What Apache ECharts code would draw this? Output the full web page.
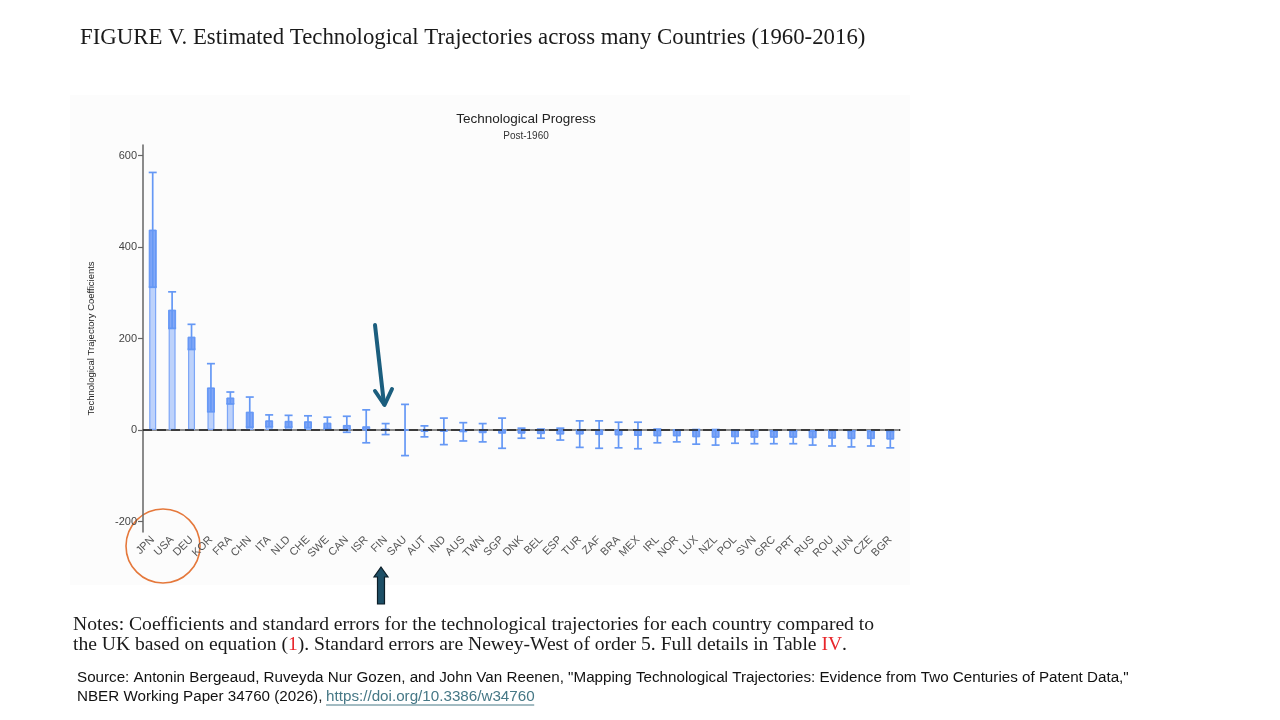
<!DOCTYPE html>
<html>
<head>
<meta charset="utf-8">
<script src="https://cdn.jsdelivr.net/npm/echarts@6/dist/echarts.min.js"></script>
<style>
  html, body { margin: 0; padding: 0; background: #fff; }
  #chart { width: 1280px; height: 720px; }
</style>
</head>
<body>
<div id="chart"></div>
<script>
// countries, in the order of the figure
var countries = ['JPN','USA','DEU','KOR','FRA','CHN','ITA','NLD','CHE','SWE','CAN','ISR','FIN','SAU','AUT','IND','AUS','TWN','SGP','DNK','BEL','ESP','TUR','ZAF','BRA','MEX','IRL','NOR','LUX','NZL','POL','SVN','GRC','PRT','RUS','ROU','HUN','CZE','BGR'];
// estimated coefficients
var coef = [437,262,203,92,70,39,20,19,18,15,10,7,2,0,-3,-3,-4,-6,-7,-7,-8,-9,-9,-10,-11,-12,-13,-13,-15,-16,-15,-16,-16,-16,-17,-18,-19,-19,-20];
// confidence interval, lower and upper ends
var ciLow = [312,222,176,40,57,6,7,6,5,3,-5,-28,-10,-56,-15,-32,-24,-26,-40,-18,-18,-22,-38,-40,-39,-41,-28,-26,-31,-33,-29,-30,-30,-30,-33,-35,-37,-35,-39];
var ciHigh = [563,302,231,145,83,72,33,32,31,28,30,44,14,56,9,26,16,14,26,4,2,4,20,20,17,17,2,0,1,1,-1,-2,-2,-2,-2,-2,-2,-3,-3];
var yTicks = [-200,0,200,400,600];

var figTitle = 'FIGURE V. Estimated Technological Trajectories across many Countries (1960-2016)';
var notes1 = 'Notes: Coefficients and standard errors for the technological trajectories for each country compared to';
var src1 = 'Source: Antonin Bergeaud, Ruveyda Nur Gozen, and John Van Reenen, "Mapping Technological Trajectories: Evidence from Two Centuries of Patent Data,"';
var src2a = 'NBER Working Paper 34760 (2026), ';
var src2b = 'https://doi.org/10.3386/w34760';

// helper to size text so it spans the same width as in the figure
var ctx = document.createElement('canvas').getContext('2d');
function textW(txt, size, fam) {
    ctx.font = size + 'px ' + fam;
    return ctx.measureText(txt).width;
}
function fitSize(txt, fam, target) {
    return 20 * target / textW(txt, 20, fam);
}
var serif = '"Liberation Serif"';
var sans = '"Liberation Sans"';
var titleSize = fitSize(figTitle, serif, 785);
var notesSize = fitSize(notes1, serif, 800);
var srcSize = fitSize(src1, sans, 1050);
var linkX = 77 + textW(src2a, srcSize, sans);
var linkW = textW(src2b, srcSize, sans);

var errData = [];
for (var i = 0; i < countries.length; i++) {
    errData.push([i, ciLow[i], ciHigh[i], coef[i]]);
}

var blue = '#6598f5';

function renderErr(params, api) {
    var x = api.value(0), lo = api.value(1), hi = api.value(2), c = api.value(3);
    var pLo = api.coord([x, lo]);
    var pHi = api.coord([x, hi]);
    var pC = api.coord([x, c]);
    var inner = c >= 0 ? Math.max(lo, 0) : Math.min(hi, 0);
    var pIn = api.coord([x, inner]);
    var cap = 4;
    var kids = [];
    if ((c >= 0 && lo < c) || (c < 0 && hi > c)) {
        kids.push({
            type: 'rect',
            shape: { x: pC[0] - 3.5, y: Math.min(pC[1], pIn[1]), width: 7, height: Math.abs(pC[1] - pIn[1]) },
            style: { fill: 'rgba(90,140,245,0.6)', stroke: blue, lineWidth: 1 }
        });
    }
    kids.push({ type: 'line', shape: { x1: pLo[0], y1: pLo[1], x2: pHi[0], y2: pHi[1] }, style: { stroke: blue, lineWidth: 1.7 } });
    kids.push({ type: 'line', shape: { x1: pLo[0] - cap, y1: pLo[1], x2: pLo[0] + cap, y2: pLo[1] }, style: { stroke: blue, lineWidth: 1.7 } });
    kids.push({ type: 'line', shape: { x1: pHi[0] - cap, y1: pHi[1], x2: pHi[0] + cap, y2: pHi[1] }, style: { stroke: blue, lineWidth: 1.7 } });
    return { type: 'group', children: kids };
}

var chart = echarts.init(document.getElementById('chart'));
chart.setOption({
    backgroundColor: '#ffffff',
    animation: false,
    title: {
        text: 'Technological Progress',
        subtext: 'Post-1960',
        left: 521,
        top: 107,
        textAlign: 'center',
        itemGap: 5,
        textStyle: { fontFamily: sans, fontSize: 13.5, fontWeight: 'normal', color: '#222' },
        subtextStyle: { fontFamily: sans, fontSize: 10, color: '#333' }
    },
    grid: { left: 143, right: 380, top: 145, bottom: 188 },
    xAxis: {
        type: 'category',
        data: countries,
        axisLine: { lineStyle: { color: '#666', width: 1.5 } },
        axisTick: { alignWithLabel: true, length: 5, lineStyle: { color: '#666', width: 1.2 } },
        axisLabel: { interval: 0, rotate: 45, fontFamily: sans, fontSize: 11, color: '#555', margin: 6 },
        splitLine: { show: false }
    },
    yAxis: {
        type: 'value',
        min: -223,
        max: 623,
        name: 'Technological Trajectory Coefficients',
        nameLocation: 'middle',
        nameGap: 47,
        nameTextStyle: { fontFamily: sans, fontSize: 9.5, color: '#222' },
        axisLine: { show: true, lineStyle: { color: '#666', width: 1.5 } },
        axisTick: { show: true, length: 5, customValues: yTicks, lineStyle: { color: '#666', width: 1.2 } },
        axisLabel: { customValues: yTicks, fontFamily: sans, fontSize: 11, color: '#444', margin: 6 },
        splitLine: { show: false }
    },
    series: [
        {
            type: 'bar',
            data: coef,
            barWidth: 7,
            itemStyle: { color: 'rgba(125,168,250,0.5)', borderColor: '#7ca6f7', borderWidth: 1.2 },
            markLine: {
                silent: true,
                symbol: 'none',
                label: { show: false },
                lineStyle: { color: '#222', type: [9, 5], width: 1.7 },
                data: [{ yAxis: 0 }],
                z: 5
            }
        },
        {
            type: 'custom',
            renderItem: renderErr,
            data: errData,
            encode: { x: 0, y: [1, 2] },
            z: 4
        }
    ],
    graphic: [
        { type: 'rect', z: -100, shape: { x: 70, y: 95, width: 840, height: 490 }, style: { fill: '#fcfcfc' } },
        { type: 'text', x: 80, y: 38, style: { text: figTitle, font: titleSize.toFixed(1) + 'px ' + serif, fill: '#1a1a1a', verticalAlign: 'middle' } },
        { type: 'text', x: 73, y: 625, style: { text: notes1, font: notesSize.toFixed(1) + 'px ' + serif, fill: '#1a1a1a', verticalAlign: 'middle' } },
        { type: 'text', x: 73, y: 645, style: {
            text: 'the UK based on equation ({r|1}). Standard errors are Newey-West of order 5. Full details in Table {r|IV}.',
            font: notesSize.toFixed(1) + 'px ' + serif, fill: '#1a1a1a', verticalAlign: 'middle',
            rich: { r: { fill: '#e8262b', fontFamily: serif, fontSize: notesSize } }
        } },
        { type: 'text', x: 77, y: 678, style: { text: src1, font: srcSize.toFixed(1) + 'px ' + sans, fill: '#111', verticalAlign: 'middle' } },
        { type: 'text', x: 77, y: 697, style: { text: src2a, font: srcSize.toFixed(1) + 'px ' + sans, fill: '#111', verticalAlign: 'middle' } },
        { type: 'text', x: linkX, y: 697, style: { text: src2b, font: srcSize.toFixed(1) + 'px ' + sans, fill: '#467886', verticalAlign: 'middle' } },
        { type: 'line', shape: { x1: linkX, y1: 705, x2: linkX + linkW, y2: 705 }, style: { stroke: '#467886', lineWidth: 1 } },
        // annotation: arrow pointing down at FIN
        { type: 'line', shape: { x1: 375, y1: 325, x2: 384, y2: 404 }, style: { stroke: '#1b5e7e', lineWidth: 4, lineCap: 'round' } },
        { type: 'polyline', shape: { points: [[375, 391], [384.5, 405], [392, 389]] }, style: { stroke: '#1b5e7e', lineWidth: 4, lineCap: 'round', lineJoin: 'round', fill: 'none' } },
        // annotation: block arrow pointing up at FIN
        { type: 'polygon', shape: { points: [[381, 567], [388, 577], [384.5, 577], [384.5, 604], [377.5, 604], [377.5, 577], [374, 577]] },
          style: { fill: '#1d4f66', stroke: '#0b1d27', lineWidth: 1.2 } },
        // annotation: circle round JPN, USA, DEU
        { type: 'circle', shape: { cx: 163, cy: 546, r: 37 }, style: { fill: 'none', stroke: '#e5783b', lineWidth: 1.6 } }
    ]
});
</script>
</body>
</html>
